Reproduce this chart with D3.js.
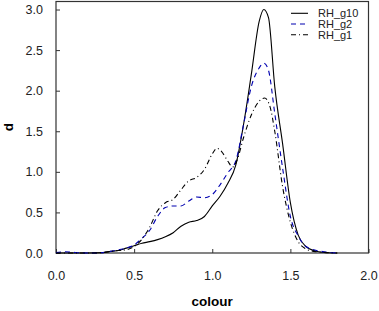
<!DOCTYPE html>
<meta charset="utf-8">
<style>
body { margin: 0; background: #fff; }
svg { font-family: "Liberation Sans", Arial, sans-serif; }
.axis path, .axis line { stroke: #333; }
.axis text { font-size: 12.5px; fill: #222; }
.curve { fill: none; stroke-width: 1.1px; }
</style>
<body>
<svg width="379" height="311"></svg>
</body>
<script src="https://cdn.jsdelivr.net/npm/d3@7"></script>
<script>
var series = ["RH_g10", "RH_g2", "RH_g1"];

var g10X = [0, 0.1, 0.2, 0.3, 0.35, 0.4, 0.45, 0.5, 0.55, 0.6, 0.65, 0.7, 0.75, 0.8, 0.85, 0.9, 0.95, 1.0, 1.05, 1.1, 1.15, 1.2, 1.25, 1.3, 1.33, 1.36, 1.4, 1.45, 1.5, 1.55, 1.6, 1.65, 1.7, 1.8];
var g10Y = [0, 0, 0, 0.005, 0.02, 0.03, 0.06, 0.09, 0.12, 0.14, 0.165, 0.2, 0.25, 0.33, 0.38, 0.4, 0.45, 0.58, 0.7, 0.86, 1.08, 1.58, 2.2, 2.85, 3.0, 2.9, 2.05, 1.35, 0.62, 0.22, 0.08, 0.03, 0.01, 0];

var g2X = [0, 0.05, 0.1, 0.15, 0.2, 0.3, 0.35, 0.4, 0.45, 0.5, 0.55, 0.6, 0.65, 0.7, 0.75, 0.8, 0.85, 0.9, 0.95, 1.0, 1.05, 1.1, 1.15, 1.2, 1.25, 1.3, 1.33, 1.36, 1.4, 1.45, 1.5, 1.55, 1.6, 1.65, 1.7, 1.8];
var g2Y = [0.005, 0.015, 0.01, 0.003, 0, 0.005, 0.02, 0.04, 0.06, 0.1, 0.18, 0.28, 0.45, 0.56, 0.58, 0.58, 0.64, 0.69, 0.68, 0.72, 0.84, 0.99, 1.13, 1.58, 2.05, 2.28, 2.34, 2.25, 1.72, 1.05, 0.45, 0.21, 0.08, 0.04, 0.02, 0];

var g1X = [0, 0.1, 0.2, 0.3, 0.35, 0.4, 0.45, 0.5, 0.55, 0.6, 0.65, 0.7, 0.75, 0.8, 0.85, 0.9, 0.95, 1.0, 1.03, 1.06, 1.1, 1.13, 1.16, 1.2, 1.25, 1.3, 1.335, 1.37, 1.4, 1.45, 1.5, 1.55, 1.6, 1.65, 1.7, 1.8];
var g1Y = [0, 0, 0, 0.005, 0.02, 0.03, 0.04, 0.08, 0.17, 0.32, 0.52, 0.62, 0.66, 0.78, 0.89, 0.93, 1.03, 1.22, 1.29, 1.25, 1.13, 1.06, 1.15, 1.42, 1.7, 1.87, 1.91, 1.8, 1.5, 0.82, 0.38, 0.14, 0.05, 0.02, 0.01, 0];

var xTicks = [0, 0.5, 1.0, 1.5, 2.0];
var yTicks = [0, 0.5, 1.0, 1.5, 2.0, 2.5, 3.0];

var data = [
    g10X.map(function(x, i) { return {x: x, y: g10Y[i]}; }),
    g2X.map(function(x, i) { return {x: x, y: g2Y[i]}; }),
    g1X.map(function(x, i) { return {x: x, y: g1Y[i]}; })
];
var colors = ["#000", "#0000b0", "#000"];
var dashes = [null, "5,4", "5,3,1,3"];

var svg = d3.select("svg");
var plotL = 56, plotR = 368.5, plotT = 1, plotB = 253;

var xScale = d3.scaleLinear().domain([0, 2]).range([plotL, plotR]);
var yScale = d3.scaleLinear().domain([0, 3.105]).range([plotB, plotT]);

// frame
svg.append("rect")
    .attr("x", plotL).attr("y", plotT + 0.5)
    .attr("width", plotR - plotL).attr("height", plotB - plotT - 0.5)
    .attr("fill", "none").attr("stroke", "#333").attr("stroke-width", 1.2);

svg.append("g")
    .attr("class", "axis")
    .attr("transform", "translate(0," + plotB + ")")
    .call(d3.axisBottom(xScale).tickValues(xTicks).tickFormat(d3.format(".1f"))
        .tickSizeInner(-4).tickSizeOuter(0).tickPadding(18))
    .call(function(g) { g.select(".domain").remove(); });

svg.append("g")
    .attr("class", "axis")
    .attr("transform", "translate(" + plotL + ",0)")
    .call(d3.axisLeft(yScale).tickValues(yTicks).tickFormat(d3.format(".1f"))
        .tickSizeInner(-4).tickSizeOuter(0).tickPadding(13))
    .call(function(g) { g.select(".domain").remove(); });

var line = d3.line()
    .curve(d3.curveMonotoneX)
    .x(function(d) { return xScale(d.x); })
    .y(function(d) { return yScale(d.y); });

svg.append("g")
    .selectAll("path")
    .data(data)
    .enter().append("path")
    .attr("class", "curve")
    .attr("stroke", function(d, i) { return colors[i]; })
    .attr("stroke-dasharray", function(d, i) { return dashes[i]; })
    .attr("d", line);

// legend
var legend = svg.append("g")
    .selectAll("g")
    .data(series)
    .enter().append("g")
    .attr("transform", function(d, i) { return "translate(291," + (13.3 + i * 10.7) + ")"; });

legend.append("line")
    .attr("x1", 0).attr("x2", 17)
    .attr("stroke", function(d, i) { return colors[i]; })
    .attr("stroke-dasharray", function(d, i) { return dashes[i]; })
    .attr("stroke-width", 1.1);

legend.append("text")
    .attr("x", 27)
    .attr("dy", "0.35em")
    .style("font-size", "11px")
    .attr("fill", "#222")
    .text(function(d) { return d; });

svg.append("text")
    .attr("x", (plotL + plotR) / 2)
    .attr("y", 306)
    .attr("text-anchor", "middle")
    .style("font-size", "13.5px")
    .style("font-weight", "bold")
    .text("colour");

svg.append("text")
    .attr("transform", "translate(13," + (plotT + plotB) / 2 + ") rotate(-90)")
    .attr("text-anchor", "middle")
    .style("font-size", "13.5px")
    .style("font-weight", "bold")
    .text("d");
</script>
